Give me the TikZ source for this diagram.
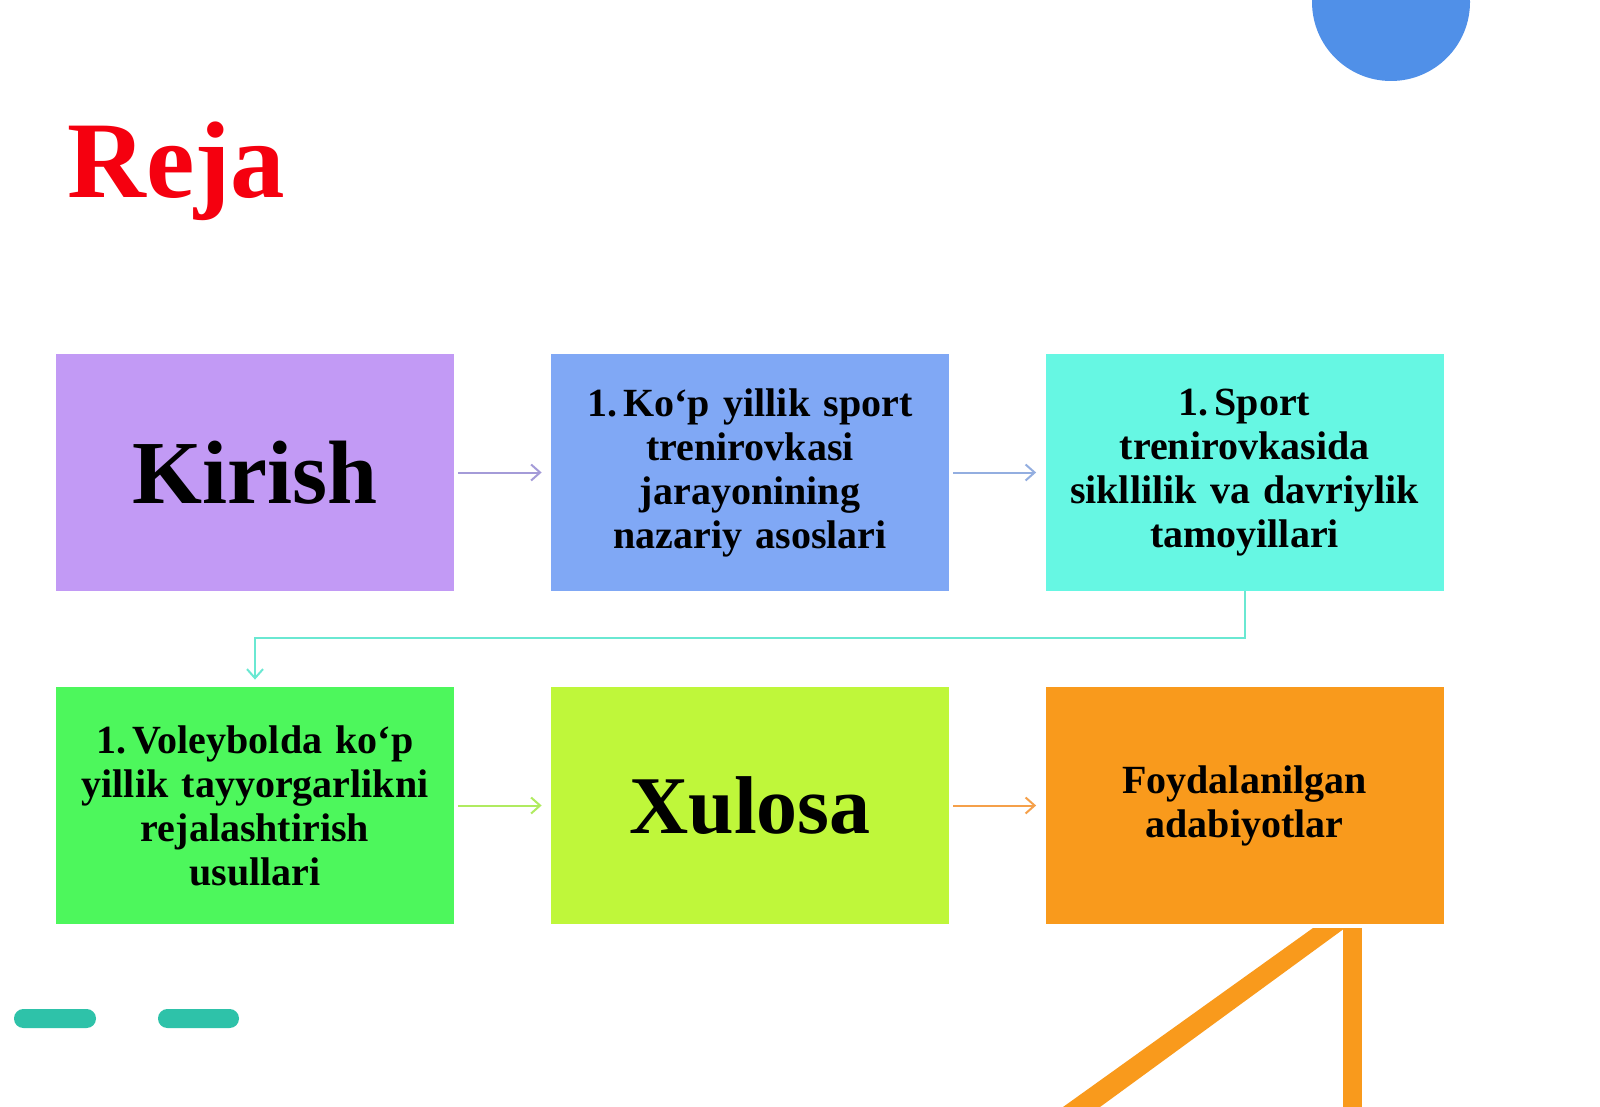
\documentclass[tikz,border=0pt]{standalone}
\usepackage{fontspec}
\setmainfont{Liberation Serif}
\usetikzlibrary{arrows.meta}
\definecolor{cKir}{HTML}{C29AF5}
\definecolor{cB2}{HTML}{80A8F5}
\definecolor{cB3}{HTML}{66F7E3}
\definecolor{cB4}{HTML}{4DF75C}
\definecolor{cB5}{HTML}{BFF73A}
\definecolor{cB6}{HTML}{F99A1C}
\definecolor{cCirc}{HTML}{5090E8}
\definecolor{cPill}{HTML}{2EC2A9}
\definecolor{cA1}{HTML}{A49BD8}
\definecolor{cA2}{HTML}{93AEE0}
\definecolor{cA3}{HTML}{6AE8D2}
\definecolor{cA4}{HTML}{B0EB60}
\definecolor{cA5}{HTML}{F5A04A}
\definecolor{cRed}{HTML}{F5000F}
\tikzset{
  boxnode/.style={minimum width=199pt, minimum height=118.5pt, inner sep=0pt,
    text width=190pt, align=center, font=\fontsize{20pt}{22pt}\selectfont\bfseries, text=black},
  bigword/.style={font=\fontsize{#1}{#1}\selectfont\bfseries},
  flowarrow/.style={line width=1pt, -{Straight Barb[length=4.5pt,width=8pt]},
    shorten <=2pt, shorten >=4.5pt}
}
\newcommand{\boxtxt}[1]{\raisebox{-1.5pt}{\parbox{190pt}{\centering #1}}}
\begin{document}
\begin{tikzpicture}[x=0.5pt,y=-0.5pt]
\useasboundingbox (0,0) rectangle (1600,1107);
\fill[white] (0,0) rectangle (1600,1107);
\begin{scope}
\clip (0,0) rectangle (1600,1107);
% decorations
\fill[cCirc] (1391,2) circle[radius=39.5pt];
\fill[cB6] (1343,928) rectangle (1362,1107);
\fill[cB6] (1313,928) -- (1345,928) -- (1100,1107) -- (1063,1107) -- cycle;
\fill[cPill, rounded corners=4.7pt] (14,1009) rectangle (96,1028);
\fill[cPill, rounded corners=4.7pt] (158,1009) rectangle (239,1028);
\end{scope}
% title
\node[anchor=base west, inner sep=0pt, text=cRed, bigword=54.5pt] (reja) at (67,198) {Reja};
% boxes
\node[boxnode, fill=cKir] (b1) at (255,472.5) {\fontsize{45pt}{45pt}\selectfont Kirish};
\node[boxnode, fill=cB2] (b2) at (750,472.5) {\boxtxt{1.\kern3pt Ko‘p yillik sport\\trenirovkasi\\jarayonining\\nazariy asoslari}};
\node[boxnode, fill=cB3] (b3) at (1244.5,472.5) {\boxtxt{1.\kern3pt Sport\\trenirovkasida\\sikllilik va davriylik\\tamoyillari}};
\node[boxnode, fill=cB4] (b4) at (255,805.5) {\boxtxt{1.\kern3pt Voleybolda ko‘p\\yillik tayyorgarlikni\\rejalashtirish\\usullari}};
\node[boxnode, fill=cB5] (b5) at (750,805.5) {\fontsize{41pt}{41pt}\selectfont Xulosa};
\node[boxnode, fill=cB6] (b6) at (1244.5,805.5) {\boxtxt{Foydalanilgan\\adabiyotlar}};
% connectors
\coordinate (mid) at (750,638);
\draw[flowarrow, draw=cA1] (b1) -- (b2);
\draw[flowarrow, draw=cA2] (b2) -- (b3);
\draw[flowarrow, draw=cA3, shorten <=0pt, shorten >=3.5pt] (b3.south) -- (b3.south |- mid) -| (b4.north);
\draw[flowarrow, draw=cA4] (b4) -- (b5);
\draw[flowarrow, draw=cA5] (b5) -- (b6);
\end{tikzpicture}
\end{document}
